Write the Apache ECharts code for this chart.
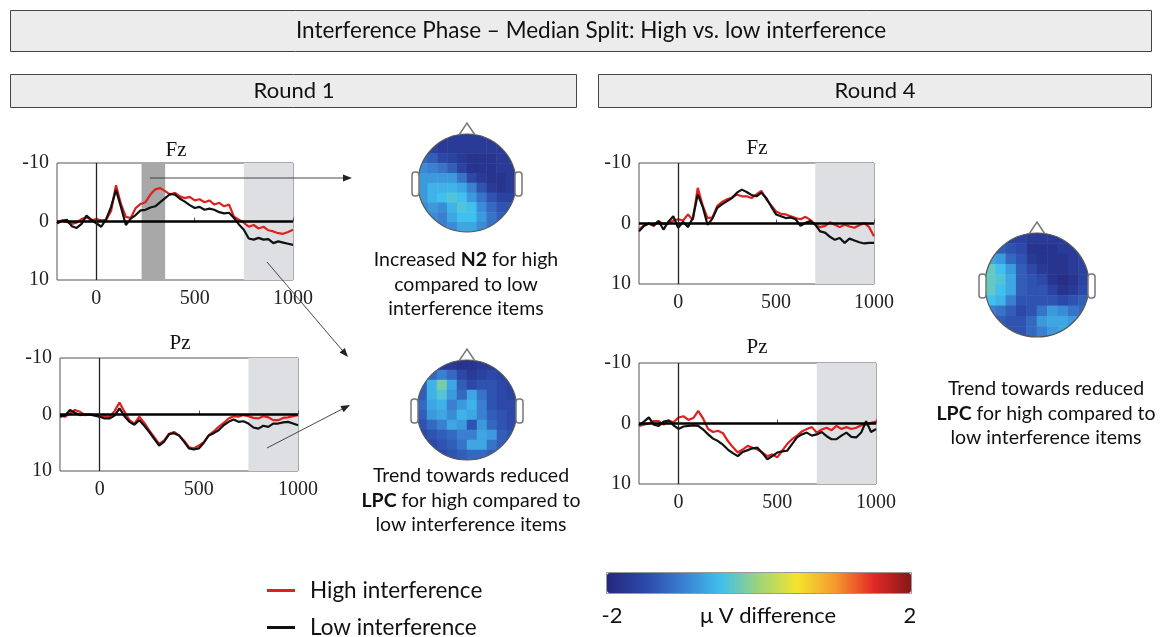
<!DOCTYPE html>
<html>
<head>
<meta charset="utf-8">
<script src="https://cdn.jsdelivr.net/npm/echarts@6/dist/echarts.min.js"></script>
<style>
  html, body { margin: 0; padding: 0; background: #fff; }
  #main { width: 1163px; height: 637px; }
</style>
</head>
<body>
<div id="main"></div>
<script>
// time in ms
const times = [-200, -175, -150, -125, -100, -75, -50, -25, 0, 25, 50, 75, 100, 125, 150, 175, 200, 225, 250, 275,
  300, 325, 350, 375, 400, 425, 450, 475, 500, 525, 550, 575, 600, 625, 650, 675, 700, 725, 750, 775,
  800, 825, 850, 875, 900, 925, 950, 975, 1000]

// Round 1 - Fz
const r1FzHigh = [0.3, -0.2, 0.1, 0.4, 0.2, -0.4, -0.7, -0.2, -0.4, -0.2, -0.3, -1.8, -6.2, -3.0, -0.8, -0.6, -2.3, -3.0, -3.3, -4.6,
  -5.5, -5.7, -5.2, -4.6, -4.9, -4.3, -4.0, -4.2, -3.6, -3.8, -3.3, -3.6, -2.9, -3.2, -2.6, -2.9, -0.8, -0.3, 0.2, 0.9,
  0.6, 1.2, 0.9, 1.5, 1.7, 2.0, 2.1, 1.8, 1.4]
const r1FzLow = [0.3, -0.1, -0.3, 0.8, 1.1, 0.4, -1.0, -0.3, 0.3, 0.9, -0.4, -2.5, -5.4, -2.5, 0.6, -0.5, -1.1, -1.9, -2.0, -2.4,
  -2.6, -3.3, -4.0, -4.7, -4.6, -3.9, -3.4, -2.8, -2.3, -2.5, -2.0, -2.2, -2.0, -1.6, -1.4, -1.5, -0.6, 0.5, 1.4, 2.9,
  3.1, 2.8, 3.1, 3.0, 3.7, 3.4, 3.6, 3.8, 4.0]
// Round 1 - Pz
const r1PzHigh = [0.1, 0.4, -0.2, -0.8, -0.5, 0.1, 0.0, 0.1, 0.4, 0.3, 0.4, -0.6, -2.1, -0.5, 1.0, 1.6, 0.4, 1.5, 2.8, 4.0,
  5.2, 4.6, 3.4, 3.1, 3.7, 4.6, 5.8, 6.0, 5.5, 4.9, 3.7, 3.0, 2.2, 1.5, 0.7, 0.3, 0.4, 0.1, 0.3, 0.6,
  0.7, 0.3, 0.5, 1.0, 1.0, 0.6, 0.5, 0.3, 0.1]
const r1PzLow = [0.4, 0.2, -0.8, -0.3, 0.1, 0.0, 0.0, 0.2, 0.4, 0.7, 0.7, 0.2, -1.1, 0.3, 1.3, 1.8, 1.0, 2.0, 3.1, 4.3,
  5.5, 4.8, 3.5, 3.3, 3.7, 4.8, 6.0, 6.2, 6.0, 5.0, 3.7, 3.3, 2.8, 1.9, 1.3, 0.9, 1.3, 1.2, 1.6, 2.3,
  2.5, 2.0, 2.2, 1.6, 1.6, 1.4, 1.3, 1.6, 1.9]
// Round 4 - Fz
const r4FzHigh = [1.0, 0.3, 0.0, 0.4, -0.4, 0.1, 0.0, -0.5, -0.7, -0.5, -1.5, -0.6, -5.9, -3.0, -0.9, -1.0, -2.9, -3.6, -4.0, -4.3,
  -4.8, -4.5, -4.5, -4.2, -4.8, -5.4, -4.0, -3.0, -2.0, -1.6, -1.5, -1.2, -0.9, -0.7, -1.1, -0.6, 0.2, 0.6, 0.4, -0.2,
  0.2, 0.6, 0.2, 0.5, 0.7, 0.3, -0.1, 0.6, 2.1]
const r4FzLow = [1.3, 0.4, 0.0, 0.3, -0.4, 1.0, -0.3, -1.2, 0.7, -0.3, 0.6, -0.9, -4.8, -2.8, 0.2, -0.8, -2.6, -3.2, -3.7, -4.2,
  -5.1, -5.6, -5.2, -4.7, -4.5, -5.1, -4.2, -2.8, -1.5, -1.2, -0.9, -1.0, -0.7, 0.4, -0.1, -0.4, 0.2, 1.3, 1.5, 2.2,
  2.7, 2.4, 3.2, 2.5, 2.8, 3.1, 3.3, 3.2, 3.2]
// Round 4 - Pz
const r4PzHigh = [0.4, 0.2, 0.0, -0.4, -0.4, 0.2, -0.5, -0.2, -1.0, -1.2, -0.6, -0.9, -2.1, -0.8, 0.9, 1.4, 1.2, 1.6, 2.9, 3.9,
  4.8, 4.3, 3.7, 4.0, 4.3, 4.8, 5.4, 5.1, 5.6, 4.5, 3.4, 2.6, 2.0, 1.3, 0.9, 0.6, 1.5, 1.0, 0.7, 1.1,
  0.4, 0.9, 0.6, 0.9, 0.7, 0.3, 0.2, -0.1, -0.3]
const r4PzLow = [0.3, -0.3, -1.0, 0.2, 0.4, -0.3, -0.5, 0.3, 0.9, 0.5, 0.4, 0.3, 0.4, 1.0, 1.8, 2.5, 2.9, 3.5, 4.3, 4.9,
  5.4, 4.7, 4.4, 4.1, 4.0, 4.9, 5.9, 5.4, 4.8, 4.6, 4.5, 3.4, 2.3, 1.8, 1.5, 2.0, 1.8, 1.4, 2.1, 2.6,
  2.6, 2.0, 1.5, 2.2, 2.3, 1.5, -0.4, 1.4, 0.9]

// topographies (µV difference, rows from front to back)
const topoN2 = [
  [-1.7, -1.7, -1.7, -1.7, -1.7, -1.7, -1.7, -1.7, -1.7, -1.7],
  [-1.5, -1.6, -1.7, -1.7, -1.7, -1.7, -1.7, -1.7, -1.7, -1.7],
  [-1.2, -1.3, -1.5, -1.6, -1.7, -1.8, -1.8, -1.8, -1.7, -1.7],
  [-0.9, -1.0, -1.1, -1.3, -1.6, -1.8, -1.8, -1.8, -1.7, -1.7],
  [-0.8, -0.8, -0.8, -0.8, -1.1, -1.5, -1.7, -1.8, -1.8, -1.7],
  [-0.8, -0.6, -0.6, -0.6, -0.7, -1.0, -1.4, -1.7, -1.8, -1.7],
  [-0.8, -0.6, -0.5, -0.4, -0.5, -0.8, -1.1, -1.4, -1.6, -1.6],
  [-0.9, -0.8, -0.9, -0.6, -0.4, -0.5, -0.9, -1.2, -1.4, -1.4],
  [-0.9, -0.9, -1.0, -0.7, -0.5, -0.5, -0.8, -1.1, -1.3, -1.3],
  [-1.0, -1.0, -1.0, -0.9, -0.7, -0.7, -0.9, -1.1, -1.2, -1.2]
]
const topoLpcR1 = [
  [-1.7, -1.7, -1.7, -1.7, -1.8, -1.8, -1.7, -1.7, -1.7, -1.7],
  [-1.5, -1.2, -1.0, -1.2, -1.5, -1.7, -1.6, -1.5, -1.6, -1.6],
  [-1.3, -0.6, -0.2, -0.7, -1.3, -1.5, -1.4, -1.4, -1.5, -1.6],
  [-1.3, -0.6, -0.4, -0.8, -1.2, -0.7, -1.1, -1.4, -1.5, -1.6],
  [-1.2, -0.7, -0.6, -1.0, -0.8, -0.6, -1.0, -1.4, -1.5, -1.5],
  [-1.3, -0.8, -0.7, -0.9, -0.6, -0.7, -1.0, -1.3, -1.4, -1.5],
  [-1.4, -1.2, -1.0, -0.7, -0.8, -1.4, -0.8, -1.2, -1.4, -1.5],
  [-1.5, -1.4, -1.3, -1.2, -1.0, -1.0, -0.7, -0.8, -1.3, -1.4],
  [-1.5, -1.5, -1.4, -1.3, -1.1, -0.7, -0.7, -1.1, -1.3, -1.4],
  [-1.5, -1.5, -1.5, -1.4, -1.3, -1.2, -1.2, -1.3, -1.4, -1.4]
]
const topoLpcR4 = [
  [-1.5, -1.5, -1.6, -1.6, -1.7, -1.7, -1.7, -1.7, -1.6, -1.6],
  [-1.3, -1.3, -1.4, -1.5, -1.8, -1.8, -1.8, -1.7, -1.7, -1.6],
  [-0.7, -0.8, -1.2, -1.4, -1.7, -1.8, -1.8, -1.8, -1.7, -1.6],
  [-0.3, -0.5, -0.8, -1.3, -1.5, -1.7, -1.8, -1.8, -1.7, -1.6],
  [-0.3, -0.4, -0.7, -1.3, -1.4, -1.5, -1.8, -1.9, -1.8, -1.6],
  [-0.3, -0.5, -0.7, -1.3, -1.4, -1.4, -1.6, -1.8, -1.7, -1.5],
  [-0.5, -0.6, -1.0, -1.4, -1.4, -1.4, -1.4, -1.5, -1.4, -1.3],
  [-1.0, -1.1, -1.3, -1.5, -1.4, -1.1, -0.8, -0.9, -1.1, -1.2],
  [-1.2, -1.3, -1.4, -1.4, -1.2, -0.8, -0.7, -0.7, -0.8, -1.1],
  [-1.3, -1.3, -1.4, -1.4, -1.2, -1.0, -0.8, -0.7, -0.8, -1.0]
]
const topoCells = [0, 1, 2, 3, 4, 5, 6, 7, 8, 9]

const serif = '"Liberation Serif", "DejaVu Serif", serif'
const sans = 'Lato, "Open Sans", sans-serif'
const RED = '#e0201e'
const BLACK = '#111'

const chart = echarts.init(document.getElementById('main'))

function pairs(values) {
  return times.map((t, i) => [t, values[i]])
}

function cells(rows) {
  const out = []
  rows.forEach((row, r) => row.forEach((v, c) => out.push([c, r, v])))
  return out
}

function erpX(gi) {
  return {
    gridIndex: gi, type: 'value', min: -200, max: 1000,
    axisLine: { show: false },
    splitLine: { show: false },
    axisTick: { show: true, inside: true, length: 4, customValues: [0, 500, 1000], lineStyle: { color: '#555' } },
    axisLabel: { customValues: [0, 500, 1000], formatter: v => String(v), fontFamily: serif, fontSize: 20, color: '#222', margin: 9 }
  }
}

function erpY(gi) {
  return {
    gridIndex: gi, type: 'value', inverse: true, min: -10, max: 10, interval: 10,
    axisLine: { show: false },
    splitLine: { show: false },
    axisTick: { show: false },
    axisLabel: { fontFamily: serif, fontSize: 20, color: '#222', margin: 8 }
  }
}

function erpSeries(gi, high, low, bands) {
  return [{
    type: 'line', name: 'High interference', xAxisIndex: gi, yAxisIndex: gi,
    data: pairs(high), showSymbol: false, symbol: 'none',
    lineStyle: { color: RED, width: 2.2 }, itemStyle: { color: RED },
    z: 3,
    markArea: {
      silent: true,
      data: bands.map(b => [{ xAxis: b[0], itemStyle: { color: b[2], opacity: 1 } }, { xAxis: b[1] }])
    }
  }, {
    type: 'line', name: 'Low interference', xAxisIndex: gi, yAxisIndex: gi,
    data: pairs(low), showSymbol: false, symbol: 'none',
    lineStyle: { color: BLACK, width: 2.2 }, itemStyle: { color: BLACK },
    z: 4,
    markLine: {
      silent: true, symbol: 'none', label: { show: false },
      data: [
        { yAxis: 0, lineStyle: { color: '#000', width: 2.6, type: 'solid' } },
        { xAxis: 0, lineStyle: { color: '#222', width: 1.3, type: 'solid' } }
      ]
    }
  }]
}

function topoSeries(gi, rows) {
  return {
    type: 'heatmap', xAxisIndex: gi, yAxisIndex: gi, data: cells(rows),
    itemStyle: { borderWidth: 0 }, silent: true
  }
}

// topography heads (cx, cy, r)
const heads = [[467, 183, 49], [467, 410, 50], [1037, 285, 52]]

function headGraphics(h) {
  const [cx, cy, r] = h
  return [
    { type: 'ring', z: 100, shape: { cx: cx, cy: cy, r0: r, r: r * 1.45 }, style: { fill: '#fff' } },
    { type: 'circle', z: 101, shape: { cx: cx, cy: cy, r: r }, style: { fill: null, stroke: '#555', lineWidth: 1.2 } },
    { type: 'polyline', z: 101, shape: { points: [[cx - 8, cy - r + 1], [cx, cy - r - 11], [cx + 8, cy - r + 1]] }, style: { stroke: '#777', lineWidth: 1.5, fill: null } },
    { type: 'rect', z: 101, shape: { x: cx - r - 6, y: cy - 11, width: 7, height: 24, r: 3 }, style: { fill: '#fff', stroke: '#777', lineWidth: 1.5 } },
    { type: 'rect', z: 101, shape: { x: cx + r - 1, y: cy - 11, width: 7, height: 24, r: 3 }, style: { fill: '#fff', stroke: '#777', lineWidth: 1.5 } }
  ]
}

function arrow(x1, y1, x2, y2) {
  const len = Math.hypot(x2 - x1, y2 - y1)
  const ux = (x2 - x1) / len, uy = (y2 - y1) / len
  const bx = x2 - ux * 9, by = y2 - uy * 9
  return [
    { type: 'line', z: 110, shape: { x1: x1, y1: y1, x2: bx, y2: by }, style: { stroke: '#333', lineWidth: 0.9 } },
    { type: 'polygon', z: 110, shape: { points: [[x2, y2], [bx - uy * 3.5, by + ux * 3.5], [bx + uy * 3.5, by - ux * 3.5]] }, style: { fill: '#222' } }
  ]
}

function label(x, y, text, size, family) {
  return {
    type: 'text', z: 120, x: x, y: y,
    style: { text: text, fontSize: size, fontFamily: family, fill: '#111', align: 'center', verticalAlign: 'middle' }
  }
}

function note(x, y, lines) {
  return lines.map((t, i) => ({
    type: 'text', z: 120, x: x, y: y + i * 24.5,
    style: {
      text: t, fontSize: 19.5, fontFamily: sans, fill: '#111', align: 'center', verticalAlign: 'middle',
      rich: { b: { fontWeight: 'bold', fontSize: 19.5, fontFamily: sans, fill: '#111' } }
    }
  }))
}

function box(x, y, w, h) {
  return { type: 'rect', z: 90, shape: { x: x, y: y, width: w, height: h }, style: { fill: '#ececec', stroke: '#444', lineWidth: 1 } }
}

const graphics = [
  box(10.5, 10.5, 1141, 41), box(10.5, 74.5, 566, 33), box(598.5, 74.5, 553, 33),
  label(591, 31, 'Interference Phase – Median Split: High vs. low interference', 22.5, sans),
  label(294, 91, 'Round 1', 22, sans),
  label(875, 91, 'Round 4', 22, sans),
  label(176, 150, 'Fz', 21, serif), label(180, 343, 'Pz', 21, serif),
  label(757, 148, 'Fz', 21, serif), label(757, 347, 'Pz', 21, serif),
  label(612, 616, '-2', 22, sans), label(910, 616, '2', 22, sans),
  label(768, 616, 'μ V difference', 22, sans),
  { type: 'rect', z: 120, shape: { x: 606.5, y: 572.5, width: 305, height: 21 }, style: { fill: null, stroke: '#999', lineWidth: 1 } }
]
  .concat(...heads.map(headGraphics))
  .concat(arrow(150, 178, 352, 178), arrow(267, 262, 348, 357), arrow(267, 448, 350, 405))
  .concat(note(466, 260, ['Increased {b|N2} for high', 'compared to low', 'interference items']))
  .concat(note(471, 476, ['Trend towards reduced', '{b|LPC} for high compared to', 'low interference items']))
  .concat(note(1046, 389, ['Trend towards reduced', '{b|LPC} for high compared to', 'low interference items']))

const gridBase = { show: true, borderColor: '#555', borderWidth: 1, backgroundColor: '#fff' }
const topoAxisX = gi => ({ gridIndex: gi, type: 'category', data: topoCells, show: false })
const topoAxisY = gi => ({ gridIndex: gi, type: 'category', data: topoCells, inverse: true, show: false })

function legendItem(name, top) {
  return {
    orient: 'vertical', left: 262, top: top, itemWidth: 28, itemHeight: 3,
    icon: 'rect', selectedMode: false,
    data: [name],
    textStyle: { fontFamily: sans, fontSize: 22.5, color: '#111', padding: [0, 0, 0, 10] }
  }
}

const option = {
  animation: false,
  backgroundColor: '#fff',
  grid: [
    Object.assign({ left: 57, top: 163, width: 236, height: 117 }, gridBase),
    Object.assign({ left: 60, top: 358, width: 238, height: 113 }, gridBase),
    Object.assign({ left: 639, top: 163, width: 235, height: 121 }, gridBase),
    Object.assign({ left: 639, top: 363, width: 237, height: 121 }, gridBase),
    { left: heads[0][0] - heads[0][2], top: heads[0][1] - heads[0][2], width: heads[0][2] * 2, height: heads[0][2] * 2 },
    { left: heads[1][0] - heads[1][2], top: heads[1][1] - heads[1][2], width: heads[1][2] * 2, height: heads[1][2] * 2 },
    { left: heads[2][0] - heads[2][2], top: heads[2][1] - heads[2][2], width: heads[2][2] * 2, height: heads[2][2] * 2 }
  ],
  xAxis: [erpX(0), erpX(1), erpX(2), erpX(3), topoAxisX(4), topoAxisX(5), topoAxisX(6)],
  yAxis: [erpY(0), erpY(1), erpY(2), erpY(3), topoAxisY(4), topoAxisY(5), topoAxisY(6)],
  legend: [legendItem('High interference', 574), legendItem('Low interference', 611)],
  visualMap: {
    type: 'continuous', seriesIndex: [8, 9, 10], min: -2, max: 2,
    orient: 'horizontal', left: 592, top: 558, itemWidth: 20, itemHeight: 304,
    calculable: false, text: null, showLabel: false, hoverLink: false,
    inRange: { color: ['#24287e', '#2c48a8', '#3a7fd0', '#40c0ee', '#9fd47a', '#f4e52c', '#f59a2e', '#e32a26', '#861818'] }
  },
  graphic: graphics,
  series: [].concat(
    erpSeries(0, r1FzHigh, r1FzLow, [[230, 350, '#a8a8a8'], [750, 1000, '#dedfe2']]),
    erpSeries(1, r1PzHigh, r1PzLow, [[750, 1000, '#dedfe2']]),
    erpSeries(2, r4FzHigh, r4FzLow, [[700, 1000, '#dedfe2']]),
    erpSeries(3, r4PzHigh, r4PzLow, [[700, 1000, '#dedfe2']]),
    topoSeries(4, topoN2),
    topoSeries(5, topoLpcR1),
    topoSeries(6, topoLpcR4)
  )
}

chart.setOption(option)
</script>
</body>
</html>
